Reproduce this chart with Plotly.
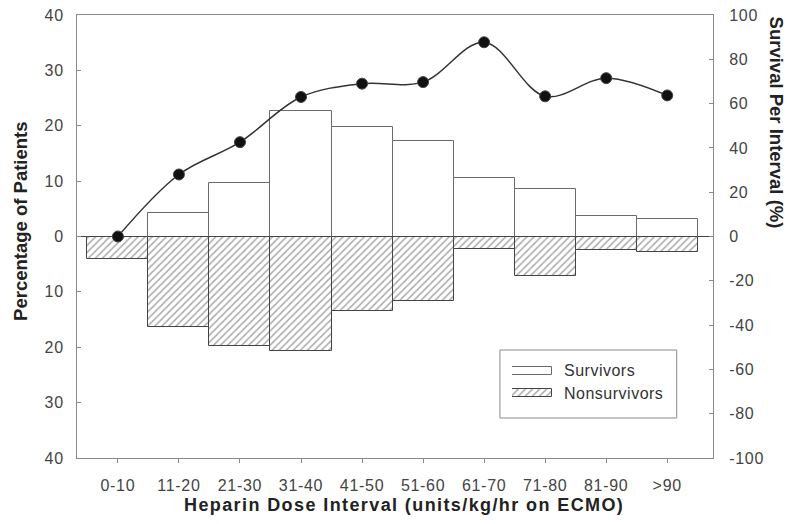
import plotly.graph_objects as go

categories = ["0-10", "11-20", "21-30", "31-40", "41-50", "51-60", "61-70", "71-80", "81-90", ">90"]
survivors_pct = [0, 4.2, 9.6, 22.7, 19.8, 17.3, 10.5, 8.5, 3.7, 3.1]
nonsurvivors_pct = [4.0, 16.4, 19.8, 20.6, 13.5, 11.7, 2.3, 7.2, 2.5, 2.8]
survival_rate = [0, 28, 42.6, 63, 69, 69.7, 87.7, 63.3, 71.5, 63.7]

left_tickvals = [40, 30, 20, 10, 0, -10, -20, -30, -40]
left_ticktext = ["40", "30", "20", "10", "0", "10", "20", "30", "40"]
right_tickvals = [100, 80, 60, 40, 20, 0, -20, -40, -60, -80, -100]
right_ticktext = ["100", "80", "60", "40", "20", "0", "-20", "-40", "-60", "-80", "-100"]
legend_labels = ["Survivors", "Nonsurvivors"]

FONT = "Arial, Liberation Sans, sans-serif"
SP = '<span style="letter-spacing:0.7px">{}</span>'
x = list(range(len(categories)))

SURV_MARKER = dict(color="white", line=dict(color="#6a6a6a", width=1))
NON_MARKER = dict(color="white", line=dict(color="#444444", width=1),
                  pattern=dict(shape="/", fgcolor="#555555", bgcolor="white", size=5, solidity=0.3))

fig = go.Figure()
fig.add_trace(go.Bar(x=x, y=survivors_pct, width=1, name=legend_labels[0],
                     marker=SURV_MARKER, showlegend=False))
fig.add_trace(go.Bar(x=x, y=[-v for v in nonsurvivors_pct], width=1, name=legend_labels[1],
                     marker=NON_MARKER, showlegend=False))
fig.add_trace(go.Scatter(
    x=x, y=survival_rate, yaxis="y2", mode="lines+markers",
    line=dict(color="#333333", width=1.5, shape="spline", smoothing=1),
    marker=dict(color="#111111", size=11, line=dict(color="#444444", width=1)),
    showlegend=False,
))
# legend swatches drawn on a small helper axis
fig.add_trace(go.Bar(x=[1], y=[1], orientation="h", width=0.4, xaxis="x3", yaxis="y3",
                     marker=SURV_MARKER, showlegend=False, hoverinfo="skip"))
fig.add_trace(go.Bar(x=[1], y=[0], orientation="h", width=0.4, xaxis="x3", yaxis="y3",
                     marker=NON_MARKER, showlegend=False, hoverinfo="skip"))

tickfont = dict(family=FONT, size=16, color="#444444")
fig.update_layout(
    width=791, height=524,
    margin=dict(l=77, r=78, t=15, b=66, autoexpand=False),
    paper_bgcolor="white", plot_bgcolor="white",
    barmode="relative", bargap=0,
    font=dict(family=FONT, size=16, color="#444444"),
    showlegend=False,
    xaxis=dict(range=[-0.67, 9.75], tickvals=x, ticktext=[SP.format(c) for c in categories],
               showline=True, linecolor="#8a8a8a", linewidth=1, mirror=True,
               ticks="outside", ticklen=4, tickcolor="#8a8a8a",
               showgrid=False, zeroline=False, tickfont=tickfont, ticklabelstandoff=9),
    yaxis=dict(range=[-40, 40], tickvals=left_tickvals, ticktext=[SP.format(t) for t in left_ticktext],
               showline=True, linecolor="#8a8a8a", linewidth=1, mirror=True,
               ticks="inside", ticklen=4, tickcolor="#8a8a8a",
               showgrid=False, zeroline=True, zerolinecolor="#444444", zerolinewidth=1,
               tickfont=tickfont, ticklabelstandoff=9),
    yaxis2=dict(range=[-100, 100], tickvals=right_tickvals, ticktext=[SP.format(t) for t in right_ticktext],
                overlaying="y", side="right",
                showline=True, linecolor="#8a8a8a", linewidth=1,
                ticks="inside", ticklen=4, tickcolor="#8a8a8a",
                showgrid=False, zeroline=False, tickfont=tickfont, ticklabelstandoff=12),
    xaxis3=dict(domain=[0.684, 0.747], range=[0, 1], visible=False, anchor="y3", fixedrange=True),
    yaxis3=dict(domain=[0.1219, 0.2212], range=[-0.5, 1.5], visible=False, anchor="x3", fixedrange=True),
    shapes=[dict(type="rect", xref="paper", yref="paper",
                 x0=0.665, x1=0.943, y0=0.0903, y1=0.2438,
                 line=dict(color="#8a8a8a", width=1), fillcolor="rgba(0,0,0,0)")],
    annotations=[
        dict(text='<span style="letter-spacing:0.5px">' + legend_labels[0] + '</span>',
             xref="paper", yref="paper", x=0.7626, y=0.1964, showarrow=False,
             xanchor="left", yanchor="middle", font=dict(family=FONT, size=16, color="#333333")),
        dict(text='<span style="letter-spacing:0.5px">' + legend_labels[1] + '</span>',
             xref="paper", yref="paper", x=0.7626, y=0.1467, showarrow=False,
             xanchor="left", yanchor="middle", font=dict(family=FONT, size=16, color="#333333")),
        dict(text="<b>Percentage of Patients</b>", xref="paper", yref="paper",
             x=-0.088, y=0.533, textangle=-90, showarrow=False,
             font=dict(family=FONT, size=18.5, color="#222222"), xanchor="center", yanchor="middle"),
        dict(text="<b>Survival Per Interval (%)</b>", xref="paper", yref="paper",
             x=1.1, y=0.758, textangle=90, showarrow=False,
             font=dict(family=FONT, size=18.5, color="#222222"), xanchor="center", yanchor="middle"),
        dict(text='<b><span style="letter-spacing:1.4px">Heparin Dose Interval (units/kg/hr on ECMO)</span></b>',
             xref="paper", yref="paper",
             x=0.514, y=-0.106, showarrow=False,
             font=dict(family=FONT, size=18, color="#222222"), xanchor="center", yanchor="middle"),
    ],
)

fig.write_html("out.html", config={"displayModeBar": False},
               post_script="document.body.style.margin='0';document.body.style.overflow='hidden';")
